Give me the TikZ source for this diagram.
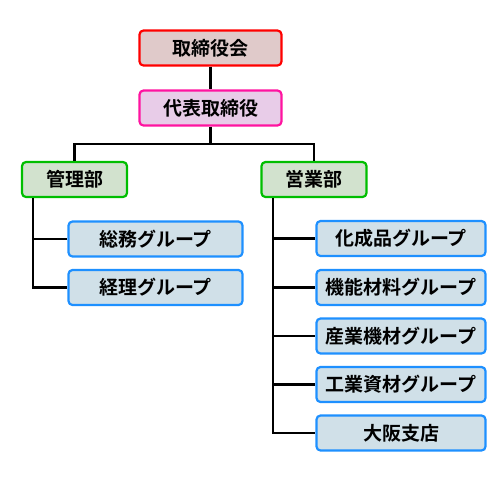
\documentclass[tikz,border=0pt]{standalone}
\usepackage{fontspec}
\setmainfont{Noto Sans CJK JP}[BoldFont={Noto Sans CJK JP Bold}]
\usepackage{tikz}
\usetikzlibrary{shapes}
\usetikzlibrary{arrows}

\tikzset{
  box/.style={draw, line width=2.2pt, rounded corners=4pt, minimum height=35pt,
    inner sep=0pt, font=\fontsize{19}{19}\selectfont\bfseries},
  board/.style={box, draw=red, fill={rgb,255:red,224;green,202;blue,202}, minimum width=142pt},
  ceo/.style={box, draw={rgb,255:red,255;green,20;blue,160}, fill={rgb,255:red,232;green,204;blue,232}, minimum width=142pt},
  dept/.style={box, draw={rgb,255:red,0;green,190;blue,0}, fill={rgb,255:red,210;green,226;blue,206}, minimum width=105pt},
  grp/.style={box, draw={rgb,255:red,30;green,144;blue,255}, fill={rgb,255:red,208;green,224;blue,232}},
  link/.style={line width=2.2pt, black}
}

\begin{document}
\begin{tikzpicture}[x=1pt, y=-1pt]
    \useasboundingbox (0,0) rectangle (500,480);

    \node[board] (board) at (210.5,48) {取締役会};
    \node[ceo] (ceo) at (210.5,108) {代表取締役};
    \node[dept] (kanri) at (74.5,179.5) {管理部};
    \node[dept] (eigyo) at (314,179.5) {営業部};

    \node[grp, minimum width=174pt] (soumu) at (155.5,239) {総務グループ};
    \node[grp, minimum width=174pt] (keiri) at (155.5,287.5) {経理グループ};

    \node[grp, minimum width=169pt] (kasei) at (401,238.5) {化成品グループ};
    \node[grp, minimum width=169pt] (kinou) at (401,287.5) {機能材料グループ};
    \node[grp, minimum width=169pt] (sangyo) at (401,336) {産業機材グループ};
    \node[grp, minimum width=169pt] (kougyo) at (401,384.5) {工業資材グループ};
    \node[grp, minimum width=169pt] (osaka) at (401,433) {大阪支店};

    \coordinate (bar) at (210.5,144);
    \draw[link] (board) -- (ceo);
    \draw[link] (ceo) -- (bar);
    \draw[link] (bar) -| (kanri);
    \draw[link] (bar) -| (eigyo);

    \foreach \g in {soumu, keiri}
      \draw[link] ([xshift=-41.5pt]kanri.south) |- (\g.west);
    \foreach \g in {kasei, kinou, sangyo, kougyo, osaka}
      \draw[link] ([xshift=-41pt]eigyo.south) |- (\g.west);
  \end{tikzpicture}
\end{document}
